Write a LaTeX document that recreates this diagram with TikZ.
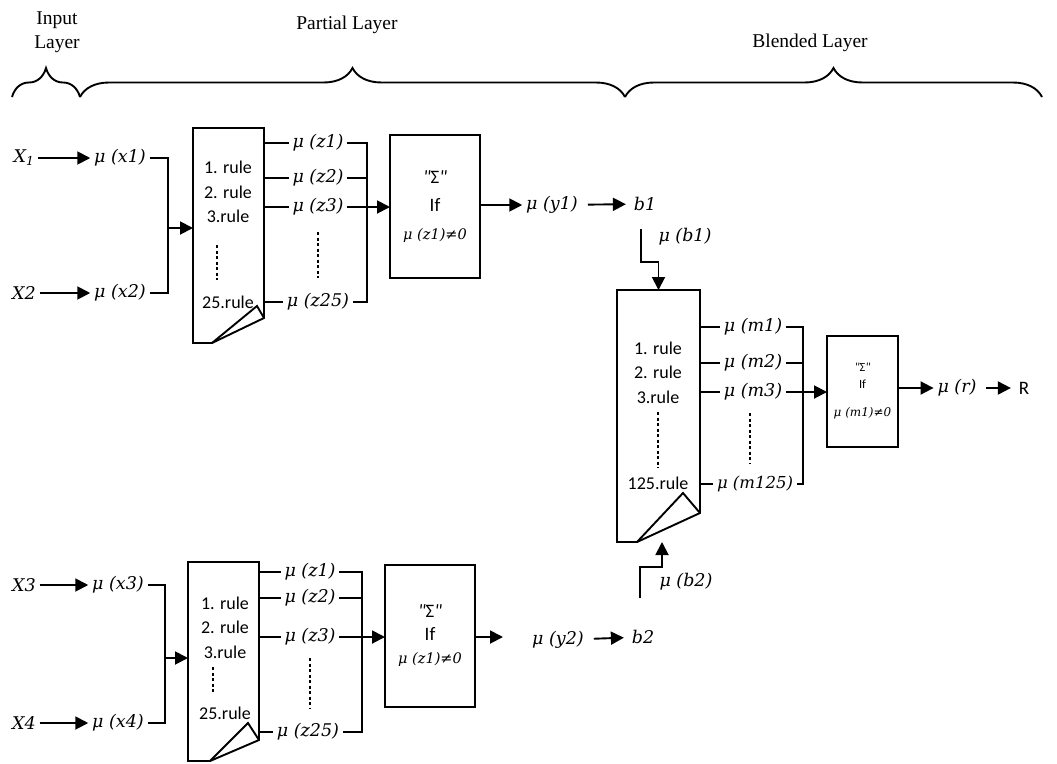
\documentclass[tikz,border=0pt]{standalone}
\usepackage{fontspec}
\setmainfont{Liberation Serif}
\newfontfamily\rulefont{Carlito}
\newfontfamily\labfont{DejaVu Serif}
\usetikzlibrary{arrows.meta, decorations.pathreplacing}

\begin{document}
\begin{tikzpicture}[x=1pt, y=-1pt, line width=1.9pt]
    \tikzstyle{lab}=[font=\labfont\itshape\fontsize{17.5}{19}\selectfont, inner sep=3pt]
    \tikzstyle{rul}=[font=\rulefont\fontsize{18}{24.5}\selectfont, align=center, inner sep=0pt]
    \tikzstyle{doc}=[rectangle, inner sep=0pt, outer sep=0pt]
    \tikzstyle{sig}=[draw, rectangle, align=center, inner sep=0pt, outer sep=0pt]
    \tikzstyle{arr}=[-{Triangle[length=13pt, width=13pt]}]
    \tikzstyle{lnk}=[arr, shorten <=6pt, shorten >=4pt]
    \tikzstyle{dots}=[dash pattern=on 3pt off 2.5pt, line width=1.6pt]
    \tikzstyle{hdr}=[font=\fontsize{19.5}{24}\selectfont, align=center]
    \tikzstyle{brc}=[decorate, decoration={brace, amplitude=29pt}]
    \useasboundingbox (0,0) rectangle (1057,763);
    % layers
    \draw (57,32) node[hdr] (inlay) {Input\\Layer} ;
    \draw (347,25) node[hdr] (partlay) {Partial Layer} ;
    \draw (810,43) node[hdr] (blendlay) {Blended Layer} ;
    \coordinate (br0) at (12,97) ;
    \coordinate (br1) at (80,97) ;
    \coordinate (br2) at (625,97) ;
    \coordinate (br3) at (1042,97) ;
    \draw[brc] (br0) -- (br1) ;
    \draw[brc] (br1) -- (br2) ;
    \draw[brc] (br2) -- (br3) ;
    % upper partial block
    \draw (24,158) node[lab] (X1) {X\textsubscript{1}} ;
    \draw (120,158) node[lab] (mux1) {μ (x1)} ;
    \draw (24,293) node[lab] (X2) {X2} ;
    \draw (120,293) node[lab] (mux2) {μ (x2)} ;
    \draw[arr] (X1) -- (mux1) ;
    \draw[arr] (X2) -- (mux2) ;
    \coordinate (jn1) at (168,228) ;
    \draw (mux1) -| (jn1) |- (mux2) ;
    \draw (228.5,235.5) node[doc, minimum width=71pt, minimum height=215pt] (rb1) {} ;
    \draw (rb1.north west) -- (rb1.north east) -- (264,318) -- (212,343) -- (rb1.south west) -- cycle ;
    \draw (212,343) -- (257,306) -- (264,318) ;
    \draw (228,192) node[rul] (rules1) {1. rule\\2. rule\\3.rule} ;
    \draw (228,302) node[rul] (last1) {25.rule} ;
    \draw[dots] (217,245) -- (217,280) ;
    \draw[arr] (jn1) -- (jn1 -| rb1.west) ;
    \draw (318,143) node[lab] (muz1) {μ (z1)} ;
    \draw (318,178) node[lab] (muz2) {μ (z2)} ;
    \draw (318,207) node[lab] (muz3) {μ (z3)} ;
    \draw (318,302) node[lab] (muz25) {μ (z25)} ;
    \draw[dots] (318,232) -- (318,278) ;
    \draw (rb1.east |- muz1) -- (muz1) ;
    \draw (rb1.east |- muz2) -- (muz2) ;
    \draw (rb1.east |- muz3) -- (muz3) ;
    \draw (rb1.east |- muz25) -- (muz25) ;
    \coordinate (jz1) at (367,207) ;
    \draw (muz1) -| (jz1) |- (muz25) ;
    \draw (muz2) -- (muz2 -| jz1) ;
    \draw (muz3) -- (jz1) ;
    \draw (435,206.5) node[sig, minimum width=90pt, minimum height=143pt, font=\rulefont\fontsize{19}{28}\selectfont] (sig1)
        {\textit{"}Σ\textit{"}\\If\\{\labfont\fontsize{14.5}{15}\selectfont\itshape μ (z1)≠0}} ;
    \draw[arr] (jz1) -- (jz1 -| sig1.west) ;
    \draw (552,205) node[lab] (muy1) {μ (y1)} ;
    \draw (645,204) node[lab] (b1) {b1} ;
    \draw[arr] (sig1.east |- muy1) -- (muy1) ;
    \draw[lnk] (muy1) -- (b1) ;
    % lower partial block
    \draw (24,585) node[lab] (X3) {X3} ;
    \draw (118,585) node[lab] (mux3) {μ (x3)} ;
    \draw (24,723) node[lab] (X4) {X4} ;
    \draw (118,723) node[lab] (mux4) {μ (x4)} ;
    \draw[arr] (X3) -- (mux3) ;
    \draw[arr] (X4) -- (mux4) ;
    \coordinate (jn2) at (165,658) ;
    \draw (mux3) -| (jn2) |- (mux4) ;
    \draw (223.5,661.5) node[doc, minimum width=71pt, minimum height=199pt] (rb2) {} ;
    \draw (rb2.north west) -- (rb2.north east) -- (259,740) -- (210,761) -- (rb2.south west) -- cycle ;
    \draw (210,761) -- (248,723) -- (259,740) ;
    \draw (225,627.5) node[rul] (rules2) {1. rule\\2. rule\\3.rule} ;
    \draw (225,713) node[rul] (last2) {25.rule} ;
    \draw[dots] (213,667) -- (213,692) ;
    \draw[arr] (jn2) -- (jn2 -| rb2.west) ;
    \draw (310,572) node[lab] (muw1) {μ (z1)} ;
    \draw (310,598) node[lab] (muw2) {μ (z2)} ;
    \draw (310,637) node[lab] (muw3) {μ (z3)} ;
    \draw (308,732) node[lab] (muw25) {μ (z25)} ;
    \draw[dots] (310,658) -- (310,708) ;
    \draw (rb2.east |- muw1) -- (muw1) ;
    \draw (rb2.east |- muw2) -- (muw2) ;
    \draw (rb2.east |- muw3) -- (muw3) ;
    \draw (rb2.east |- muw25) -- (muw25) ;
    \coordinate (jz2) at (362,637) ;
    \draw (muw1) -| (jz2) |- (muw25) ;
    \draw (muw2) -- (muw2 -| jz2) ;
    \draw (muw3) -- (jz2) ;
    \draw (430,636) node[sig, minimum width=90pt, minimum height=142pt, font=\rulefont\fontsize{19}{23}\selectfont] (sig2)
        {\textit{"}Σ\textit{"}\\If\\{\labfont\fontsize{14.5}{15}\selectfont\itshape μ (z1)≠0}} ;
    \draw[arr] (jz2) -- (jz2 -| sig2.west) ;
    \draw (558,640) node[lab] (muy2) {μ (y2)} ;
    \draw (643,637) node[lab] (b2) {b2} ;
    \draw[arr] (sig2.east |- jz2) -- +(28,0) ;
    \draw[lnk] (muy2) -- (b2) ;
    % blended block
    \draw (658.5,416) node[doc, minimum width=83pt, minimum height=252pt] (rb3) {} ;
    \draw (rb3.north west) -- (rb3.north east) -- (700,513) -- (637,542) -- (rb3.south west) -- cycle ;
    \draw (637,542) -- (683,493) -- (700,513) ;
    \draw (658,372.5) node[rul] (rules3) {1. rule\\2. rule\\3.rule} ;
    \draw (658,483) node[rul] (last3) {125.rule} ;
    \draw[dots] (658,412) -- (658,468) ;
    \coordinate (b1in) at (641,229) ;
    \coordinate (bend1) at (658.5,262) ;
    \draw[arr] (b1in) |- (bend1) -- (rb3.north) ;
    \draw (685,237) node[lab] (mub1) {μ (b1)} ;
    \coordinate (b2in) at (640,598) ;
    \coordinate (bend2) at (662,567) ;
    \draw[arr] (b2in) |- (bend2) -- (bend2 |- rb3.south) ;
    \draw (686,582) node[lab] (mub2) {μ (b2)} ;
    \draw (753,327) node[lab] (mum1) {μ (m1)} ;
    \draw (753,363) node[lab] (mum2) {μ (m2)} ;
    \draw (753,392) node[lab] (mum3) {μ (m3)} ;
    \draw (755,484) node[lab, font=\labfont\itshape\fontsize{16.5}{18}\selectfont] (mum125) {μ (m125)} ;
    \draw[dots] (750,413) -- (750,463) ;
    \draw (rb3.east |- mum1) -- (mum1) ;
    \draw (rb3.east |- mum2) -- (mum2) ;
    \draw (rb3.east |- mum3) -- (mum3) ;
    \draw (rb3.east |- mum125) -- (mum125) ;
    \coordinate (jm) at (803,392) ;
    \draw (mum1) -| (jm) |- (mum125) ;
    \draw (mum2) -- (mum2 -| jm) ;
    \draw (mum3) -- (jm) ;
    \draw (862.5,391.5) node[sig, minimum width=71pt, minimum height=111pt, font=\rulefont\fontsize{12.5}{15}\selectfont] (sig3)
        {\textit{"}Σ\textit{"}\\[2pt]If\\[13pt]{\labfont\fontsize{12}{12}\selectfont\itshape μ (m1)≠0}} ;
    \draw[arr] (jm) -- (jm -| sig3.west) ;
    \draw (957,388) node[lab] (mur) {μ (r)} ;
    \draw (1024,388) node[lab, font=\rulefont\fontsize{19}{20}\selectfont] (R) {R} ;
    \draw[arr] (sig3.east |- mur) -- (mur) ;
    \draw[lnk] (mur) -- (R) ;
\end{tikzpicture}
\end{document}
